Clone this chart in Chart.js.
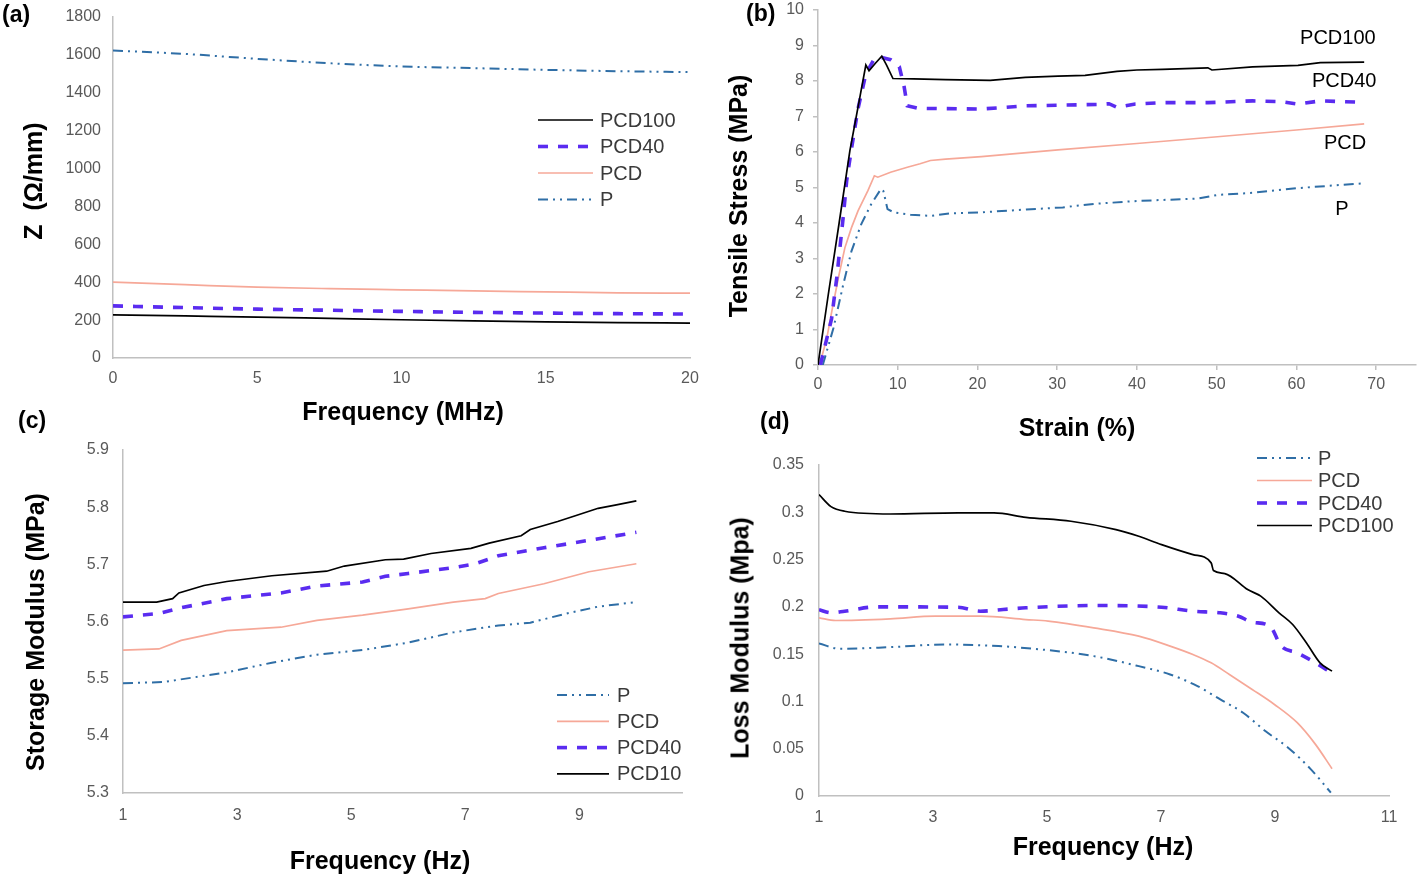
<!DOCTYPE html>
<html><head><meta charset="utf-8">
<script src="https://cdn.jsdelivr.net/npm/chart.js@4.4.1/dist/chart.umd.min.js"></script>
<style>
html,body{margin:0;padding:0;background:#fff;}
body{width:1418px;height:876px;overflow:hidden;position:relative;font-family:'Liberation Sans',Arial,sans-serif;}
.panel{position:absolute;}
.tag{position:absolute;font-weight:bold;font-size:23px;color:#000;line-height:1;}
.xt{position:absolute;font-weight:bold;font-size:25px;color:#000;line-height:1;white-space:nowrap;transform:translate(-50%,-50%);}
.yt{position:absolute;font-weight:bold;font-size:25px;color:#000;line-height:1;white-space:nowrap;transform:translate(-50%,-50%) rotate(-90deg);}
</style></head><body>
<div class="panel" style="left:0;top:0;width:710px;height:440px"><canvas id="ca" width="710" height="440"></canvas></div>
<div class="panel" style="left:710px;top:0;width:708px;height:445px"><canvas id="cb" width="708" height="445"></canvas></div>
<div class="panel" style="left:0;top:420px;width:710px;height:456px"><canvas id="cc" width="710" height="456"></canvas></div>
<div class="panel" style="left:710px;top:420px;width:708px;height:456px"><canvas id="cd" width="708" height="456"></canvas></div>

<div class="tag" style="left:2px;top:3px">(a)</div>
<div class="tag" style="left:746px;top:2px">(b)</div>
<div class="tag" style="left:18px;top:409px">(c)</div>
<div class="tag" style="left:760px;top:410px">(d)</div>

<div class="xt" style="left:403px;top:411px">Frequency (MHz)</div>
<div class="yt" style="left:33px;top:181px">Z&nbsp;&nbsp;(Ω/mm)</div>
<div class="xt" style="left:1077px;top:427px">Strain (%)</div>
<div class="yt" style="left:738px;top:196px">Tensile Stress (MPa)</div>
<div class="xt" style="left:380px;top:860px">Frequency (Hz)</div>
<div class="yt" style="left:35px;top:632px">Storage Modulus (MPa)</div>
<div class="xt" style="left:1103px;top:846px">Frequency (Hz)</div>
<div class="yt" style="left:740px;top:638px">Loss Modulus (Mpa)</div>

<script>
// ---------- (a) Impedance ----------
const aFreq    = [0, 2.5, 5, 7.5, 10, 12.5, 15, 17.5, 20];
const aPCD100  = [228, 222, 216, 209, 202, 196, 191, 187, 184];
const aPCD40   = [275, 266, 258, 252, 246, 241, 237, 234, 232];
const aPCD     = [400, 387, 374, 366, 360, 354, 349, 344, 342];
const aP       = [1623, 1605, 1579, 1556, 1539, 1530, 1521, 1514, 1509];
const aXTicks  = [0, 5, 10, 15, 20];
const aYTicks  = [0, 200, 400, 600, 800, 1000, 1200, 1400, 1600, 1800];

// ---------- (b) Tensile ----------
const bPCD100Strain = [0, 1.3, 2.65, 4, 5.3, 6, 6.4, 7.2, 8, 8.6, 9.4, 12, 16, 21.6, 26, 30.1, 33.5, 37.5, 40, 43.2, 48.9, 49.4, 54.5, 60.2, 63, 68.5];
const bPCD100Stress = [0, 2, 4, 6.04, 7.6, 8.45, 8.29, 8.5, 8.7, 8.45, 8.07, 8.06, 8.04, 8.02, 8.1, 8.14, 8.16, 8.27, 8.31, 8.33, 8.37, 8.31, 8.4, 8.44, 8.52, 8.53];
const bPCD40Strain  = [0.3, 1.7, 2.35, 2.75, 3.2, 3.6, 4.1, 5, 6, 7, 7.7, 9.1, 10.2, 10.8, 11.2, 12.5, 20.5, 26, 35.2, 36.5, 37.5, 39.8, 43.2, 48.9, 54.5, 58, 60.2, 63, 68.5];
const bPCD40Stress  = [0, 1.3, 2.45, 3.3, 4.25, 5.2, 5.95, 7.2, 8.2, 8.6, 8.68, 8.6, 8.4, 7.84, 7.3, 7.23, 7.21, 7.3, 7.34, 7.36, 7.26, 7.35, 7.39, 7.39, 7.44, 7.42, 7.35, 7.44, 7.4];
const bPCDStrain    = [0.2, 1.1, 1.73, 2.55, 3.37, 4.2, 5.02, 6.26, 7.07, 7.5, 9.1, 11.2, 12.8, 14.1, 16, 20.5, 30.1, 40, 50.1, 60, 68.5];
const bPCDStress    = [0, 0.75, 1.51, 2.45, 3.3, 3.87, 4.34, 4.91, 5.33, 5.29, 5.43, 5.57, 5.67, 5.76, 5.8, 5.87, 6.06, 6.24, 6.43, 6.62, 6.79];
const bPStrain      = [0.6, 1.94, 3.17, 4.2, 5.43, 6.67, 7.9, 8.2, 8.72, 9.5, 11.6, 14.1, 16.5, 20.5, 26.1, 30.7, 34.7, 40, 47.7, 50.1, 54.5, 60, 68.5];
const bPStress      = [0, 1.04, 2.27, 3.21, 3.97, 4.53, 4.96, 4.9, 4.39, 4.3, 4.23, 4.2, 4.27, 4.3, 4.38, 4.44, 4.54, 4.62, 4.69, 4.79, 4.85, 4.98, 5.12];
const bXTicks = [0, 10, 20, 30, 40, 50, 60, 70];
const bYTicks = [0, 1, 2, 3, 4, 5, 6, 7, 8, 9, 10];

// ---------- (c) Storage modulus ----------
const cPCD10Freq = [1, 1.59, 1.87, 1.98, 2.42, 2.82, 3.61, 4.57, 4.88, 5.6, 5.92, 6.4, 7.1, 7.42, 7.98, 8.14, 8.62, 8.93, 9.33, 9.65, 10];
const cPCD10     = [5.634, 5.634, 5.64, 5.65, 5.663, 5.67, 5.68, 5.688, 5.697, 5.708, 5.709, 5.719, 5.728, 5.737, 5.75, 5.761, 5.775, 5.785, 5.798, 5.804, 5.811];
const cPCD40Freq = [1, 1.63, 2.02, 2.82, 3.77, 4.4, 5.2, 5.6, 6, 6.79, 7.18, 7.58, 8.38, 9.17, 10];
const cPCD40     = [5.608, 5.614, 5.624, 5.64, 5.65, 5.662, 5.669, 5.679, 5.684, 5.694, 5.701, 5.715, 5.729, 5.742, 5.756];
const cPCDFreq   = [1, 1.63, 2.02, 2.82, 3.77, 4.4, 5.2, 6, 6.79, 7.35, 7.58, 8.38, 9.17, 10];
const cPCD       = [5.55, 5.552, 5.567, 5.584, 5.59, 5.602, 5.611, 5.622, 5.634, 5.64, 5.649, 5.666, 5.687, 5.701];
const cPFreq     = [1, 1.7, 2.82, 3.61, 4.4, 5.2, 6, 6.79, 7.58, 8.14, 8.78, 9.33, 10];
const cP         = [5.492, 5.494, 5.511, 5.528, 5.542, 5.55, 5.563, 5.581, 5.593, 5.598, 5.614, 5.626, 5.634];
const cXTicks = [1, 3, 5, 7, 9];
const cYTicks = [5.3, 5.4, 5.5, 5.6, 5.7, 5.8, 5.9];

// ---------- (d) Loss modulus ----------
const dPCD100Freq = [1, 1.21, 1.45, 2.25, 3.44, 4.07, 4.63, 5.42, 6.21, 6.61, 7.01, 7.56, 7.88, 7.92, 8.12, 8.52, 8.75, 9.07, 9.31, 9.55, 9.79, 10];
const dPCD100     = [0.3187, 0.306, 0.3011, 0.2982, 0.2993, 0.2993, 0.2947, 0.2905, 0.2817, 0.2746, 0.2658, 0.2553, 0.2465, 0.2384, 0.2352, 0.2183, 0.2113, 0.1937, 0.1813, 0.162, 0.1408, 0.132];
const dPCD40Freq  = [1, 1.21, 1.45, 2, 3.44, 3.83, 4.23, 4.63, 5.82, 7.01, 7.56, 8.04, 8.36, 8.6, 8.91, 9.11, 9.39, 9.71, 9.95];
const dPCD40      = [0.197, 0.1937, 0.1954, 0.2, 0.1996, 0.1954, 0.1972, 0.199, 0.2014, 0.1996, 0.1954, 0.1937, 0.1901, 0.1838, 0.1796, 0.1585, 0.1514, 0.1408, 0.132];
const dPCDFreq    = [1, 1.29, 2.25, 3.04, 3.83, 4.63, 5.02, 5.82, 6.61, 7.16, 7.56, 7.88, 8.2, 8.6, 8.99, 9.39, 9.71, 10];
const dPCD        = [0.1884, 0.1856, 0.1873, 0.1901, 0.1901, 0.1866, 0.1849, 0.1778, 0.169, 0.1585, 0.1496, 0.1408, 0.1285, 0.1127, 0.0968, 0.0775, 0.0546, 0.0289];
const dPFreq      = [1, 1.37, 2.25, 3.2, 4.15, 5.02, 5.82, 6.61, 7.16, 7.64, 8.04, 8.44, 8.83, 9.23, 9.63, 9.98];
const dP          = [0.1613, 0.1556, 0.1574, 0.1602, 0.1585, 0.1542, 0.1479, 0.1373, 0.1285, 0.1162, 0.1021, 0.088, 0.0687, 0.0511, 0.0282, 0.0035];
const dXTicks = [1, 3, 5, 7, 9, 11];
const dYTicks = [0, 0.05, 0.1, 0.15, 0.2, 0.25, 0.3, 0.35];

// ---------- styling ----------
const FONT = "'Liberation Sans', Arial, sans-serif";
const AXIS = '#C0C0C0';
const TICK = '#595959';
const STYLE = {
  P:      {borderColor: '#2F6EA6', borderWidth: 2,   borderDash: [10, 5, 2, 5, 2, 5]},
  PCD:    {borderColor: '#F6A898', borderWidth: 1.7, borderDash: []},
  PCD40:  {borderColor: '#5A2CF0', borderWidth: 3.6, borderDash: [10, 10]},
  PCD100: {borderColor: '#000000', borderWidth: 1.7, borderDash: []}
};
function pts(xs, ys) { return xs.map((x, i) => ({x: x, y: ys[i]})); }
function ds(label, key, xs, ys, smooth) {
  return Object.assign({label: label, data: pts(xs, ys), pointRadius: 0, fill: false,
    tension: 0, cubicInterpolationMode: smooth ? 'monotone' : 'default'}, STYLE[key]);
}
function axis(o) {
  return {
    type: 'linear', position: o.pos, min: o.min, max: o.max,
    afterBuildTicks: s => { s.ticks = o.ticks.map(v => ({value: v})); },
    afterFit: s => {
      if (o.pos === 'bottom') s.height = o.size; else s.width = o.size;
      s.paddingTop = 0; s.paddingBottom = 0; s.paddingLeft = 0; s.paddingRight = 0;
    },
    border: {display: true, color: AXIS, width: 1.5},
    grid: o.marks ? {display: true, drawOnChartArea: false, drawTicks: true, tickLength: 5, color: AXIS, lineWidth: 1.5}
                  : {display: false, drawTicks: false},
    ticks: {color: TICK, font: {family: FONT, size: 16}, padding: o.pad, maxRotation: 0, autoSkip: false,
            callback: o.fmt || (v => String(v))},
    title: {display: false}
  };
}
const sideLegend = {
  id: 'sideLegend',
  afterDraw(chart, args, opts) {
    if (!opts || !opts.order) return;
    const ctx = chart.ctx;
    ctx.save();
    opts.order.forEach((idx, i) => {
      const d = chart.data.datasets[idx];
      const y = opts.y + i * opts.row;
      ctx.beginPath();
      ctx.setLineDash(d.borderDash || []);
      ctx.strokeStyle = d.borderColor;
      ctx.lineWidth = d.borderWidth;
      ctx.moveTo(opts.x, y); ctx.lineTo(opts.x + opts.len, y);
      ctx.stroke();
      ctx.setLineDash([]);
      ctx.fillStyle = '#3A3A3A';
      ctx.font = '20px ' + FONT;
      ctx.textAlign = 'left'; ctx.textBaseline = 'middle';
      ctx.fillText(d.label, opts.x + opts.len + opts.gap, y + 1);
    });
    ctx.restore();
  }
};
const seriesLabels = {
  id: 'seriesLabels',
  afterDraw(chart, args, opts) {
    if (!opts || !opts.items) return;
    const ctx = chart.ctx, xs = chart.scales.x, ys = chart.scales.y;
    ctx.save();
    ctx.fillStyle = '#000';
    ctx.font = '20px ' + FONT;
    ctx.textAlign = 'center'; ctx.textBaseline = 'middle';
    opts.items.forEach(it => ctx.fillText(it.text, xs.getPixelForValue(it.x), ys.getPixelForValue(it.y)));
    ctx.restore();
  }
};
function make(id, datasets, scales, layoutPad, pluginOpts, plugins) {
  return new Chart(document.getElementById(id), {
    type: 'line',
    data: {datasets: datasets},
    options: {
      responsive: false, animation: false, devicePixelRatio: 1,
      layout: {padding: layoutPad},
      scales: scales,
      plugins: Object.assign({legend: {display: false}, tooltip: {enabled: false}, title: {display: false}}, pluginOpts)
    },
    plugins: plugins
  });
}
Chart.defaults.font.family = FONT;

// (a)
make('ca', [
  ds('PCD100', 'PCD100', aFreq, aPCD100, true),
  ds('PCD40', 'PCD40', aFreq, aPCD40, true),
  ds('PCD', 'PCD', aFreq, aPCD, true),
  ds('P', 'P', aFreq, aP, true)
], {
  x: axis({pos: 'bottom', min: 0, max: 20, ticks: aXTicks, size: 82, pad: 11}),
  y: axis({pos: 'left', min: 0, max: 1800, ticks: aYTicks, size: 113, pad: 12})
}, {top: 17, right: 20, left: 0, bottom: 0},
{sideLegend: {order: [0, 1, 2, 3], x: 538, len: 55, gap: 7, y: 120, row: 26.5}}, [sideLegend]);

// (b)
make('cb', [
  ds('PCD100', 'PCD100', bPCD100Strain, bPCD100Stress, false),
  ds('PCD40', 'PCD40', bPCD40Strain, bPCD40Stress, false),
  ds('PCD', 'PCD', bPCDStrain, bPCDStress, false),
  ds('P', 'P', bPStrain, bPStress, false)
], {
  x: axis({pos: 'bottom', min: 0, max: 75, ticks: bXTicks, size: 80, pad: 5, marks: true}),
  y: axis({pos: 'left', min: 0, max: 10, ticks: bYTicks, size: 108, pad: 9, marks: true})
}, {top: 10, right: 2, left: 0, bottom: 0},
{seriesLabels: {items: [
  {text: 'PCD100', x: 65.2, y: 9.21},
  {text: 'PCD40', x: 66.0, y: 8.0},
  {text: 'PCD', x: 66.1, y: 6.25},
  {text: 'P', x: 65.7, y: 4.37}
]}}, [seriesLabels]);

// (c)
make('cc', [
  ds('PCD10', 'PCD100', cPCD10Freq, cPCD10, false),
  ds('PCD40', 'PCD40', cPCD40Freq, cPCD40, false),
  ds('PCD', 'PCD', cPCDFreq, cPCD, false),
  ds('P', 'P', cPFreq, cP, false)
], {
  x: axis({pos: 'bottom', min: 1, max: 10.8, ticks: cXTicks, size: 83, pad: 13}),
  y: axis({pos: 'left', min: 5.3, max: 5.9, ticks: cYTicks, size: 123, pad: 14, fmt: v => Number(v).toFixed(1)})
}, {top: 30, right: 28, left: 0, bottom: 0},
{sideLegend: {order: [3, 2, 1, 0], x: 557, len: 52, gap: 8, y: 275, row: 26.3}}, [sideLegend]);

// (d)
make('cd', [
  ds('PCD100', 'PCD100', dPCD100Freq, dPCD100, true),
  ds('PCD40', 'PCD40', dPCD40Freq, dPCD40, true),
  ds('PCD', 'PCD', dPCDFreq, dPCD, true),
  ds('P', 'P', dPFreq, dP, true)
], {
  x: axis({pos: 'bottom', min: 1, max: 11, ticks: dXTicks, size: 80, pad: 12}),
  y: axis({pos: 'left', min: 0, max: 0.35, ticks: dYTicks, size: 109, pad: 15, fmt: v => String(parseFloat(Number(v).toFixed(2)))})
}, {top: 45, right: 29, left: 0, bottom: 0},
{sideLegend: {order: [3, 2, 1, 0], x: 547, len: 55, gap: 6, y: 38, row: 22.5}}, [sideLegend]);
</script>
</body></html>
